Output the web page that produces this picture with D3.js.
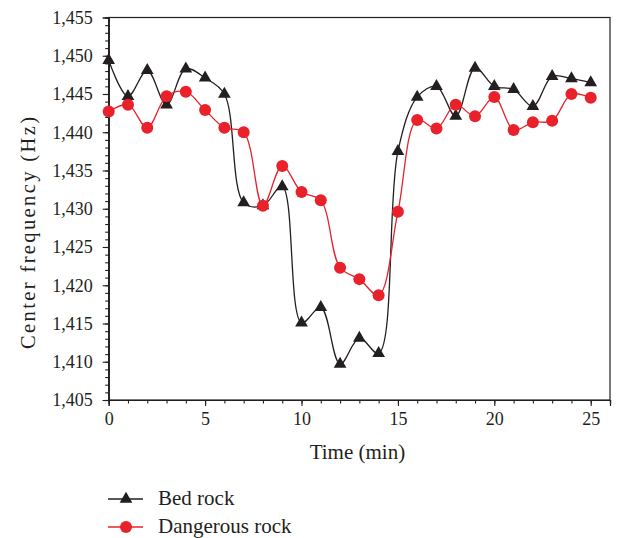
<!doctype html>
<html>
<head>
<meta charset="UTF-8">
<title>Center frequency</title>
<script src="https://cdn.jsdelivr.net/npm/d3@7"></script>
<style>
  body { margin: 0; background: #fff; }
  text { font-family: "Liberation Serif", "DejaVu Serif", serif; fill: #231f20; }
</style>
</head>
<body>
<script>
// data
var times = d3.range(0, 26);
var bedRock = [1449.4, 1444.7, 1448.1, 1443.6, 1448.3, 1447.1, 1445.0, 1430.8, 1430.4, 1432.9,
               1415.1, 1417.1, 1409.7, 1413.1, 1411.1, 1437.5, 1444.6, 1446.0, 1442.1, 1448.4,
               1446.0, 1445.6, 1443.4, 1447.3, 1447.0, 1446.5];
var dangerousRock = [1442.7, 1443.6, 1440.6, 1444.7, 1445.3, 1442.9, 1440.6, 1440.0, 1430.4, 1435.6,
                     1432.2, 1431.1, 1422.3, 1420.8, 1418.7, 1429.6, 1441.6, 1440.5, 1443.6, 1442.1,
                     1444.6, 1440.3, 1441.3, 1441.5, 1445.0, 1444.5];
var xTicks = [0, 5, 10, 15, 20, 25];
var yTicks = [1405, 1410, 1415, 1420, 1425, 1430, 1435, 1440, 1445, 1450, 1455];
var seriesNames = ["Bed rock", "Dangerous rock"];

var W = 619, H = 538;
var mLeft = 108.7, mRight = 610, mTop = 17.5, mBottom = 400;

var svg = d3.select("body").append("svg")
  .attr("width", W).attr("height", H);

var x = d3.scaleLinear().domain([0, 26]).range([mLeft, mRight]);
var y = d3.scaleLinear().domain([1405, 1455]).range([mBottom, mTop]);

// frame
svg.append("rect")
  .attr("x", mLeft).attr("y", mTop)
  .attr("width", mRight - mLeft).attr("height", mBottom - mTop)
  .attr("fill", "none").attr("stroke", "#231f20").attr("stroke-width", 1.2);

// minor ticks
var xAxisMinor = d3.axisBottom(x).tickValues(d3.range(0, 27)).tickSize(3.5).tickFormat("");
var yAxisMinor = d3.axisLeft(y).tickValues(d3.range(1405, 1456)).tickSize(3.5).tickFormat("");
svg.append("g").attr("transform", "translate(0," + mBottom + ")").call(xAxisMinor);
svg.append("g").attr("transform", "translate(" + mLeft + ",0)").call(yAxisMinor);

// major ticks
var fmt = d3.format(",");
var xAxis = d3.axisBottom(x).tickValues(xTicks).tickSize(6).tickPadding(6);
var yAxis = d3.axisLeft(y).tickValues(yTicks).tickSize(6).tickPadding(10).tickFormat(fmt);
var gx = svg.append("g").attr("transform", "translate(0," + mBottom + ")").call(xAxis);
var gy = svg.append("g").attr("transform", "translate(" + mLeft + ",0)").call(yAxis);

svg.selectAll(".domain").attr("stroke", "#231f20").attr("stroke-width", 1.2);
svg.selectAll(".tick line").attr("stroke", "#231f20").attr("stroke-width", 1.1);
svg.selectAll(".tick text")
  .attr("font-family", "Liberation Serif, DejaVu Serif, serif")
  .attr("font-size", 18).attr("fill", "#231f20");

// axis titles
svg.append("text")
  .attr("x", x(12.9)).attr("y", 459)
  .attr("text-anchor", "middle").attr("font-size", 21)
  .text("Time (min)");
svg.append("text")
  .attr("transform", "translate(35,233) rotate(-90)")
  .attr("text-anchor", "middle").attr("font-size", 20.5)
  .attr("textLength", 232).attr("lengthAdjust", "spacing")
  .text("Center frequency (Hz)");

var line = d3.line()
  .x(function(d, i) { return x(times[i]); })
  .y(function(d) { return y(d); })
  .curve(d3.curveCatmullRom.alpha(0.5));

var tri = d3.symbol().type(d3.symbolTriangle).size(70);

// bed rock
svg.append("path").datum(bedRock)
  .attr("d", line).attr("fill", "none")
  .attr("stroke", "#231f20").attr("stroke-width", 1.3);

// dangerous rock
svg.append("path").datum(dangerousRock)
  .attr("d", line).attr("fill", "none")
  .attr("stroke", "#e8212b").attr("stroke-width", 1.3);

svg.selectAll(".tri").data(bedRock).enter()
  .append("path").attr("class", "tri")
  .attr("d", tri)
  .attr("transform", function(d, i) { return "translate(" + x(times[i]) + "," + y(d) + ")"; })
  .attr("fill", "#231f20");

svg.selectAll(".dot").data(dangerousRock).enter()
  .append("circle").attr("class", "dot")
  .attr("cx", function(d, i) { return x(times[i]); })
  .attr("cy", function(d) { return y(d); })
  .attr("r", 6)
  .attr("fill", "#e8212b");

// legend
var legend = svg.append("g");
var ly = [499, 527];
legend.append("line").attr("x1", 108).attr("x2", 143).attr("y1", ly[0]).attr("y2", ly[0])
  .attr("stroke", "#231f20").attr("stroke-width", 1.3);
legend.append("path").attr("d", tri).attr("transform", "translate(126," + ly[0] + ")")
  .attr("fill", "#231f20");
legend.append("line").attr("x1", 108).attr("x2", 143).attr("y1", ly[1]).attr("y2", ly[1])
  .attr("stroke", "#e8212b").attr("stroke-width", 1.3);
legend.append("circle").attr("cx", 126).attr("cy", ly[1]).attr("r", 6).attr("fill", "#e8212b");
legend.selectAll("text").data(seriesNames).enter()
  .append("text")
  .attr("x", 158)
  .attr("y", function(d, i) { return ly[i] + 6; })
  .attr("font-size", 21)
  .text(function(d) { return d; });
</script>
</body>
</html>
